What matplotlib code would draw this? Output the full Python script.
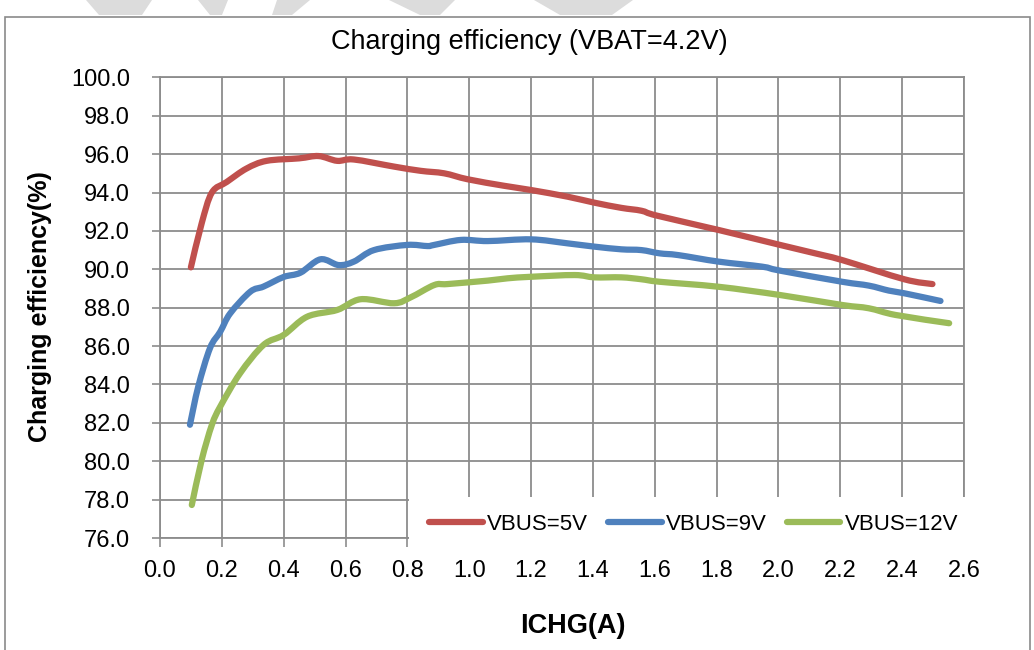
import matplotlib
matplotlib.use("Agg")
import matplotlib.pyplot as plt
from matplotlib.patches import Rectangle, Polygon, PathPatch
from matplotlib.path import Path
from matplotlib.lines import Line2D

plt.rcParams['font.family'] = ['Liberation Sans', 'DejaVu Sans']

# 读图得到的数据点
x_5v = [0.10, 0.135, 0.168, 0.216, 0.28, 0.345, 0.45, 0.513, 0.573, 0.627, 0.757, 0.843, 0.919,
        0.995, 1.113, 1.2, 1.319, 1.405, 1.492, 1.557, 1.606, 1.806, 2.005, 2.119, 2.206, 2.407, 2.498]
y_5v = [90.1, 92.4, 94.0, 94.55, 95.25, 95.65, 95.78, 95.9, 95.65, 95.72, 95.35, 95.13, 95.0,
        94.69, 94.35, 94.13, 93.78, 93.47, 93.2, 93.05, 92.8, 92.05, 91.27, 90.83, 90.48, 89.48, 89.23]

x_9v = [0.097, 0.124, 0.162, 0.195, 0.227, 0.292, 0.335, 0.40, 0.454, 0.519, 0.578, 0.627, 0.692,
        0.80, 0.865, 0.887, 0.973, 1.06, 1.2, 1.319, 1.405, 1.492, 1.557, 1.616, 1.676, 1.806,
        1.946, 2.005, 2.206, 2.292, 2.357, 2.407, 2.524]
y_9v = [81.9, 83.9, 85.9, 86.75, 87.7, 88.83, 89.1, 89.6, 89.82, 90.52, 90.22, 90.4, 91.0,
        91.27, 91.21, 91.27, 91.53, 91.47, 91.56, 91.35, 91.18, 91.04, 91.0, 90.83, 90.74, 90.4,
        90.14, 89.93, 89.35, 89.15, 88.89, 88.75, 88.35]

x_12v = [0.103, 0.135, 0.168, 0.195, 0.259, 0.335, 0.40, 0.476, 0.573, 0.649, 0.757, 0.811, 0.887,
         0.93, 1.06, 1.124, 1.2, 1.341, 1.405, 1.492, 1.557, 1.616, 1.806, 2.005, 2.206, 2.292,
         2.379, 2.552]
y_12v = [77.72, 80.07, 81.9, 82.85, 84.58, 86.06, 86.58, 87.53, 87.88, 88.44, 88.23, 88.54, 89.18,
         89.23, 89.41, 89.53, 89.61, 89.70, 89.58, 89.58, 89.48, 89.35, 89.09, 88.66, 88.14, 87.97,
         87.62, 87.19]

labels = ["VBUS=5V", "VBUS=9V", "VBUS=12V"]
colors = ["#C0504D", "#4F81BD", "#9BBB59"]
x_ticks = [i * 0.2 for i in range(14)]
y_ticks = [76 + 2 * i for i in range(13)]


def smooth_path(xs, ys):
    # Excel 那种平滑线: 数据点之间用三次贝塞尔连接
    pts = list(zip(xs, ys))
    verts = [pts[0]]
    codes = [Path.MOVETO]
    n = len(pts)
    for i in range(n - 1):
        p0 = pts[i - 1] if i > 0 else pts[i]
        p1 = pts[i]
        p2 = pts[i + 1]
        p3 = pts[i + 2] if i + 2 < n else pts[i + 1]
        c1 = (p1[0] + (p2[0] - p0[0]) / 6, p1[1] + (p2[1] - p0[1]) / 6)
        c2 = (p2[0] - (p3[0] - p1[0]) / 6, p2[1] - (p3[1] - p1[1]) / 6)
        verts += [c1, c2, p2]
        codes += [Path.CURVE4] * 3
    return Path(verts, codes)


fig = plt.figure(figsize=(10.34, 6.5), dpi=100)
ax1 = fig.add_axes([0.1547, 0.1723, 0.7776, 0.7087])

# 外框 和 顶部水印残影
fig.patches.append(Rectangle((5 / 1034, -0.05), 1025 / 1034, 1 - 17 / 650 + 0.05,
                             transform=fig.transFigure, fill=False, edgecolor="#8a8a8a", lw=1.2))
for pts in [[(86, 0), (152, 0), (142, 15), (99, 15)],
            [(198, 0), (228, 0), (222, 15), (210, 15)],
            [(277, 0), (310, 0), (292, 15), (272, 15)],
            [(389, 0), (455, 0), (440, 15), (420, 15)],
            [(534, 0), (633, 0), (612, 15), (560, 15)]]:
    fig.patches.append(Polygon([(px / 1034, 1 - py / 650) for px, py in pts], closed=True,
                               transform=fig.transFigure, facecolor="#dcdcdc", edgecolor="none"))

ax1.grid(True, color="#8c8c8c", lw=1.3, zorder=0.5)
series = [(x_5v, y_5v), (x_9v, y_9v), (x_12v, y_12v)]
handles = []
for (xs, ys), c, lab in zip(series, colors, labels):
    ax1.add_patch(PathPatch(smooth_path(xs, ys), fill=False, edgecolor=c, lw=4.5,
                            capstyle='round', joinstyle='round', zorder=3))
    handles.append(Line2D([], [], color=c, lw=4.5, solid_capstyle='round', label=lab))

ax1.set_xlim(0, 2.6)
ax1.set_ylim(76, 100)
ax1.set_xticks(x_ticks)
ax1.set_xticklabels(["%.1f" % v for v in x_ticks])
ax1.set_yticks(y_ticks)
ax1.set_yticklabels(["%.1f" % v for v in y_ticks])
ax1.tick_params(axis='x', length=6.5, width=1.2, color="#8c8c8c", labelsize=17, pad=9)
ax1.tick_params(axis='y', length=5.5, width=1.2, color="#8c8c8c", labelsize=17, pad=16)
for s in ax1.spines.values():
    s.set_color("#8c8c8c")
    s.set_linewidth(1.3)

# 图例白底遮住网格
ax1.add_patch(Rectangle((0.31, -0.03), 0.70, 0.119, transform=ax1.transAxes, facecolor="white",
                        edgecolor="none", clip_on=False, zorder=4))
leg = ax1.legend(handles=handles, loc='center', bbox_to_anchor=(0.664, 0.03), ncol=3,
                 frameon=False, fontsize=16, handlelength=2.4, handletextpad=0.2,
                 columnspacing=0.9, borderaxespad=0)
leg.set_zorder(5)

fig.text(0.512, 0.935, "Charging efficiency (VBAT=4.2V)", ha='center', va='center', fontsize=19.5)
fig.text(0.039, 0.528, "Charging efficiency(%)", ha='center', va='center', rotation=90,
         fontsize=18, fontweight='bold')
fig.text(0.554, 0.037, "ICHG(A)", ha='center', va='center', fontsize=19.5, fontweight='bold')

plt.savefig("out.png", dpi=100)
